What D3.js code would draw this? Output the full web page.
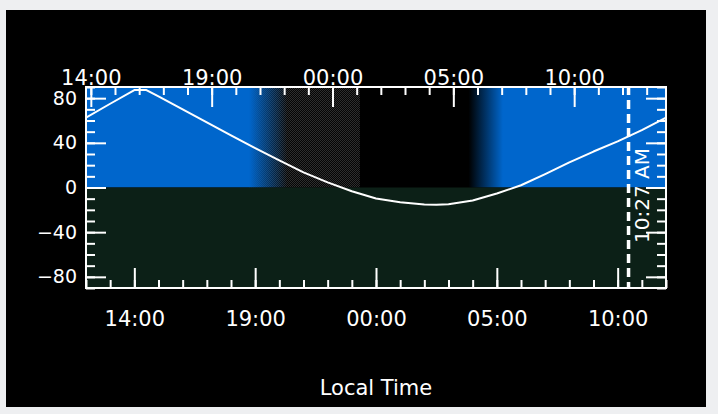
<!DOCTYPE html>
<html>
<head>
<meta charset="utf-8">
<script src="https://cdn.jsdelivr.net/npm/d3@7/dist/d3.min.js"></script>
<style>
  html, body { margin: 0; padding: 0; background: #eeeff1; }
  svg { display: block; }
  text { font-family: "DejaVu Sans", sans-serif; fill: #ffffff; }
</style>
</head>
<body>
<svg id="chart" width="718" height="414"></svg>
<script>
// ---------------- data ----------------
const altTimes = ["12:00","13:00","14:00","14:30","15:00","16:00","17:00","18:00","19:00","20:00","21:00","22:00","23:00","00:00","01:00","02:00","02:30","03:00","04:00","05:00","06:00","07:00","08:00","09:00","10:00","11:00","12:00"];
const altValues = [62.5,75.0,87.3,87.3,81.5,70.0,58.3,46.6,35.2,24.2,13.6,4.6,-3.4,-9.9,-13.3,-15.3,-15.5,-14.9,-11.6,-5.4,2.0,12.0,22.5,32.2,41.3,51.3,62.5];
const xTickLabels = ["14:00","19:00","00:00","05:00","10:00"];
const yMajorTicks = [-80,-40,0,40,80];
const yDomain = [-90, 90];
const topOffsetMinutes = 108;      // top axis clock is ahead of bottom axis
const shadeTimes = ["18:45","20:20","23:20","03:50","05:15"]; // fade start, fade end, twilight end, dawn start, dawn end
const nowTime = "10:27";
const nowLabel = "10:27 AM";
const axisTitle = "Local Time";

// ---------------- helpers ----------------
const start = new Date(2024, 0, 1, 12, 0);
const end = new Date(2024, 0, 2, 12, 0);
function toDate(s) {
  const [h, m] = s.split(":").map(Number);
  let d = new Date(2024, 0, 1, h, m);
  if (d < start) d = new Date(2024, 0, 2, h, m);
  return d;
}
function seqDates(arr) {
  let day = 1, prev = -1;
  return arr.map(s => {
    const [h, m] = s.split(":").map(Number);
    const v = h * 60 + m;
    if (prev >= 0 && v < prev) day++;
    prev = v;
    return new Date(2024, 0, day, h, m);
  });
}

// ---------------- layout ----------------
const svg = d3.select("#chart");
const L = 86, R = 666, T = 87, B = 288;

svg.append("rect").attr("x", 6).attr("y", 10).attr("width", 700).attr("height", 397).attr("fill", "#000");

const x = d3.scaleTime().domain([start, end]).range([L, R]);
const xTop = d3.scaleTime()
  .domain([d3.timeMinute.offset(start, topOffsetMinutes), d3.timeMinute.offset(end, topOffsetMinutes)])
  .range([L, R]);
const y = d3.scaleLinear().domain(yDomain).range([B, T]);

const defs = svg.append("defs");
const pat = defs.append("pattern").attr("id", "dither").attr("patternUnits", "userSpaceOnUse")
  .attr("width", 2).attr("height", 2);
pat.append("rect").attr("width", 2).attr("height", 2).attr("fill", "#050505");
pat.append("rect").attr("x", 0).attr("y", 0).attr("width", 1).attr("height", 1).attr("fill", "#2e2e2e");
pat.append("rect").attr("x", 1).attr("y", 1).attr("width", 1).attr("height", 1).attr("fill", "#2e2e2e");

const sx = shadeTimes.map(s => x(toDate(s)));
const grad = defs.append("linearGradient").attr("id", "dayGrad").attr("gradientUnits", "userSpaceOnUse")
  .attr("x1", L).attr("x2", R).attr("y1", 0).attr("y2", 0);
const off = v => (v - L) / (R - L);
[[L,1],[sx[0],1],[sx[1],0],[sx[3],0],[sx[4],1],[R,1]].forEach(([p, o]) => {
  grad.append("stop").attr("offset", off(p)).attr("stop-color", "#0066cc").attr("stop-opacity", o);
});

defs.append("clipPath").attr("id", "plotClip").append("rect")
  .attr("x", L).attr("y", T).attr("width", R - L).attr("height", B - T);

const plot = svg.append("g").attr("clip-path", "url(#plotClip)");
plot.append("rect").attr("x", L).attr("y", y(yDomain[1])).attr("width", R - L).attr("height", y(0) - y(yDomain[1])).attr("fill", "#000");
plot.append("rect").attr("x", sx[0]).attr("y", y(yDomain[1])).attr("width", sx[2] - sx[0]).attr("height", y(0) - y(yDomain[1])).attr("fill", "url(#dither)");
plot.append("rect").attr("x", L).attr("y", y(yDomain[1])).attr("width", R - L).attr("height", y(0) - y(yDomain[1])).attr("fill", "url(#dayGrad)");
plot.append("rect").attr("x", L).attr("y", y(0)).attr("width", R - L).attr("height", y(yDomain[0]) - y(0)).attr("fill", "#0c2017");

// altitude curve
const pts = seqDates(altTimes).map((d, i) => [d, altValues[i]]);
plot.append("path").datum(pts)
  .attr("fill", "none").attr("stroke", "#fff").attr("stroke-width", 2).attr("stroke-linejoin", "round")
  .attr("d", d3.line().x(d => x(d[0])).y(d => y(d[1])).curve(d3.curveLinear));

// ---------------- axes ----------------
function styleAxis(g) {
  g.select(".domain").remove();
  g.selectAll("line").attr("stroke", "#fff").attr("stroke-width", 2);
}
const hourTicksBottom = d3.timeHour.every(1).range(start, d3.timeMinute.offset(end, 1));
const majorBottom = xTickLabels.map(toDate);
const topStart = xTop.domain()[0], topEnd = xTop.domain()[1];
const hourTicksTop = d3.timeHour.every(1).range(topStart, topEnd);
const majorTop = xTickLabels.map(s => {
  const [h, m] = s.split(":").map(Number);
  let d = new Date(2024, 0, 1, h, m);
  if (d < topStart) d = new Date(2024, 0, 2, h, m);
  return d;
});
const fmt = d3.timeFormat("%H:%M");

// bottom
svg.append("g").attr("transform", `translate(0,${B})`)
  .call(d3.axisBottom(x).tickValues(hourTicksBottom).tickSize(-8).tickFormat("")).call(styleAxis);
svg.append("g").attr("transform", `translate(0,${B})`)
  .call(d3.axisBottom(x).tickValues(majorBottom).tickSize(-20).tickFormat("")).call(styleAxis);
svg.append("g").attr("transform", `translate(0,${B})`)
  .call(d3.axisBottom(x).tickValues(majorBottom).tickSize(0).tickPadding(23).tickFormat(fmt))
  .call(g => g.select(".domain").remove())
  .call(g => g.selectAll("text").attr("font-size", 21).attr("font-family", "DejaVu Sans").attr("fill", "#fff"));

// top
svg.append("g").attr("transform", `translate(0,${T})`)
  .call(d3.axisTop(xTop).tickValues(hourTicksTop).tickSize(-8).tickFormat("")).call(styleAxis);
svg.append("g").attr("transform", `translate(0,${T})`)
  .call(d3.axisTop(xTop).tickValues(majorTop).tickSize(-20).tickFormat("")).call(styleAxis);
svg.append("g").attr("transform", `translate(0,${T})`)
  .call(d3.axisTop(xTop).tickValues(majorTop).tickSize(0).tickPadding(2).tickFormat(fmt))
  .call(g => g.select(".domain").remove())
  .call(g => g.selectAll("text").attr("font-size", 21).attr("font-family", "DejaVu Sans").attr("fill", "#fff"));

// left / right
const minorY = d3.range(yDomain[0], yDomain[1] + 1, 10);
svg.append("g").attr("transform", `translate(${L},0)`)
  .call(d3.axisLeft(y).tickValues(minorY).tickSize(-9).tickFormat("")).call(styleAxis);
svg.append("g").attr("transform", `translate(${L},0)`)
  .call(d3.axisLeft(y).tickValues(yMajorTicks).tickSize(-20).tickFormat("")).call(styleAxis);
svg.append("g").attr("transform", `translate(${L},0)`)
  .call(d3.axisLeft(y).tickValues(yMajorTicks).tickSize(0).tickPadding(9).tickFormat(d3.format("d")))
  .call(g => g.select(".domain").remove())
  .call(g => g.selectAll("text").attr("font-size", 19).attr("font-family", "DejaVu Sans").attr("fill", "#fff"));
svg.append("g").attr("transform", `translate(${R},0)`)
  .call(d3.axisRight(y).tickValues(minorY).tickSize(-9).tickFormat("")).call(styleAxis);
svg.append("g").attr("transform", `translate(${R},0)`)
  .call(d3.axisRight(y).tickValues(yMajorTicks).tickSize(-20).tickFormat("")).call(styleAxis);

// border
svg.append("rect").attr("x", L).attr("y", T).attr("width", R - L).attr("height", B - T)
  .attr("fill", "none").attr("stroke", "#fff").attr("stroke-width", 2);

// now marker
const nx = x(toDate(nowTime));
svg.append("line").attr("x1", nx).attr("x2", nx).attr("y1", T - 1).attr("y2", B)
  .attr("stroke", "#fff").attr("stroke-width", 3.5).attr("stroke-dasharray", "9,5");
svg.append("text").attr("transform", `translate(${nx + 20},243) rotate(-90)`)
  .attr("font-size", 20).attr("fill", "#e6e6e6").text(nowLabel);

// axis title
svg.append("text").attr("x", (L + R) / 2).attr("y", 395).attr("text-anchor", "middle")
  .attr("font-size", 21).text(axisTitle);
</script>
</body>
</html>
